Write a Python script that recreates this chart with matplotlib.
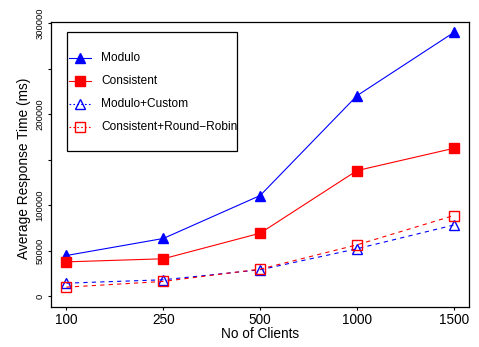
import matplotlib
matplotlib.use("Agg")
import matplotlib.pyplot as plt
from matplotlib.lines import Line2D
from matplotlib.patches import Rectangle

plt.rcParams["font.family"] = ["Liberation Sans", "DejaVu Sans"]

clients = ["100", "250", "500", "1000", "1500"]
modulo = [45000, 63700, 110900, 220600, 290100]
consistent = [38000, 41400, 69500, 138300, 162800]
modulo_custom = [14600, 18300, 29300, 52400, 78500]
consistent_rr = [10200, 16500, 30000, 56700, 88900]

y_ticks = [0, 50000, 100000, 150000, 200000, 250000, 300000]
y_tick_labels = ["0", "50000", "100000", "", "200000", "", "300000"]

BLUE = "#0000ff"
RED = "#ff0000"
DASH = (0, (3.8, 3.8))

series = [
    ("Modulo", modulo, BLUE, "-", "^", BLUE, 7.0),
    ("Consistent", consistent, RED, "-", "s", RED, 6.5),
    ("Modulo+Custom", modulo_custom, BLUE, DASH, "^", "none", 7.0),
    ("Consistent+Round\u2212Robin", consistent_rr, RED, DASH, "s", "none", 6.5),
]

fig = plt.figure(figsize=(4.79, 3.47), dpi=100)
W, H = 479, 347
ax = fig.add_axes([51 / W, 1 - 307 / H, 418.3 / W, 285 / H])

x = list(range(1, len(clients) + 1))
for label, values, color, ls, marker, face, ms in series:
    ax.plot(x, values, color=color, linestyle=ls, linewidth=0.8,
            marker=marker, markersize=ms, markerfacecolor=face,
            markeredgecolor=color, markeredgewidth=1.0)

ax.set_xlim(0.84, 5.16)
ax.set_ylim(-11600, 301600)
ax.set_xticks(x)
ax.set_xticklabels(clients, fontsize=9.8)
ax.set_yticks(y_ticks)
ax.set_yticklabels(y_tick_labels, fontsize=6.8, rotation=90, va="center")
ax.tick_params(axis="both", direction="out", length=2.5, width=0.8, pad=2.0)
for spine in ax.spines.values():
    spine.set_linewidth(0.9)

ax.set_xlabel("No of Clients", fontsize=9.8, labelpad=0)
ax.set_ylabel("Average Response Time (ms)", fontsize=9.9)
ax.yaxis.set_label_coords(-0.047, 0.488)

# legend box drawn by hand, R style
lx0, lx1 = (66.7 - 51) / 418.3, (237 - 51) / 418.3
ly0, ly1 = (307 - 150.5) / 285, (307 - 32) / 285
ax.add_patch(Rectangle((lx0, ly0), lx1 - lx0, ly1 - ly0, transform=ax.transAxes,
                       fill=False, edgecolor="black", linewidth=0.9, zorder=5))
row_y = [58, 81, 104, 127]
hx0, hx1 = (69.3 - 51) / 418.3, (91.3 - 51) / 418.3
tx = (101 - 51) / 418.3
for (label, values, color, ls, marker, face, ms), py in zip(series, row_y):
    yy = (307 - py) / 285
    leg_ls = "-" if ls == "-" else (0, (1.5, 2.0))
    ax.add_line(Line2D([hx0, hx1], [yy, yy], transform=ax.transAxes,
                       color=color, linestyle=leg_ls, linewidth=0.8, zorder=6))
    ax.add_line(Line2D([(hx0 + hx1) / 2], [yy], transform=ax.transAxes,
                       marker=marker, markersize=ms, markerfacecolor=face,
                       markeredgecolor=color, markeredgewidth=1.0,
                       linestyle="none", zorder=6))
    ax.text(tx, yy, label, transform=ax.transAxes, fontsize=8.6,
            va="center", ha="left", zorder=6)

fig.savefig("out.png", dpi=100)
